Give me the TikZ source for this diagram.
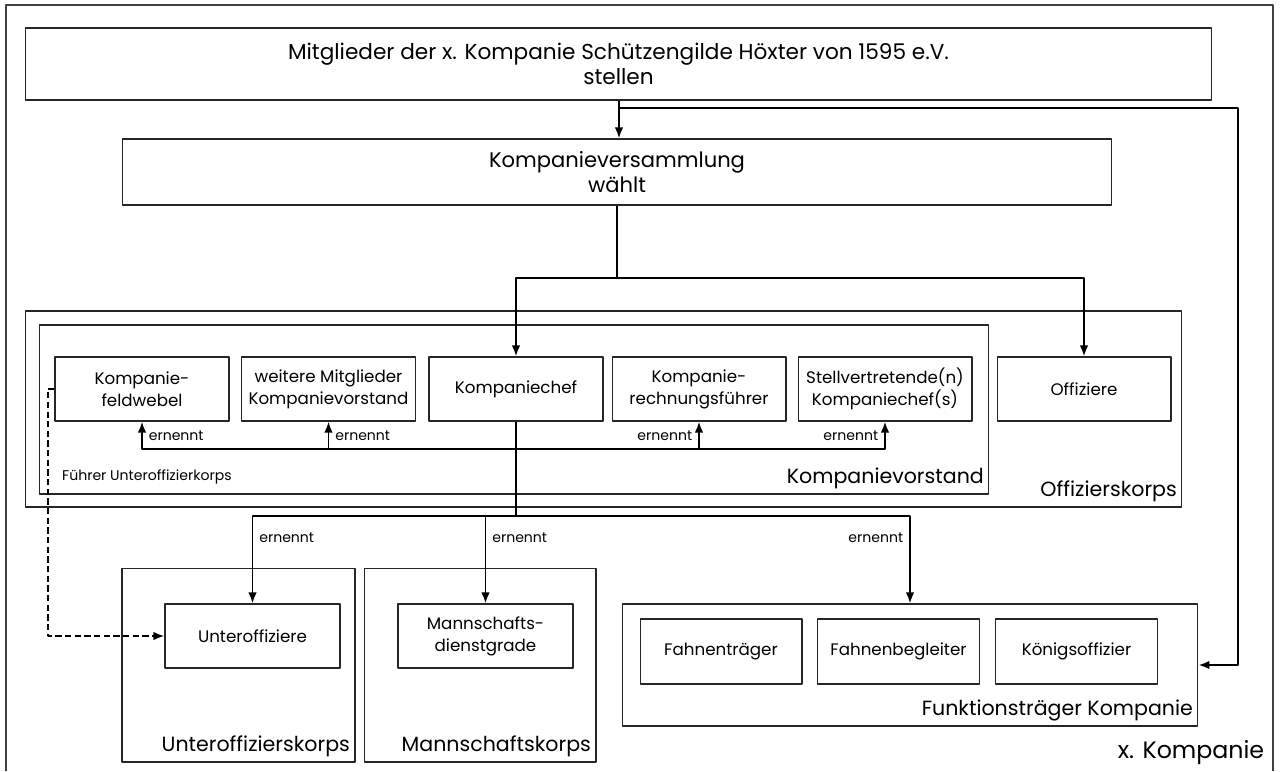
\documentclass[tikz,border=0pt]{standalone}
\usepackage{fontspec}
\setmainfont{Poppins}
\usetikzlibrary{arrows.meta}
\begin{document}
\begin{tikzpicture}[x=0.02cm, y=-0.02cm, font=\fontsize{9.5}{12.5}\selectfont, line join=round, >={Latex[length=2.2mm,width=1.7mm]},
	box/.style={draw=black!85, line width=0.6pt, align=center, minimum width=3.48cm, minimum height=1.28cm, inner sep=2pt},
	grp/.style={draw=black!85, line width=0.6pt, inner sep=0pt},
	grplbl/.style={anchor=south east, font=\fontsize{11.7}{14}\selectfont, inner sep=3pt},
	con/.style={line width=1.1pt},
	ern/.style={font=\fontsize{8}{10}\selectfont}]
	\useasboundingbox (0,0) rectangle (1280,771);
	\draw[line width=1pt, black!75] (6,771) -- (6,5) -- (1273,5) -- (1273,771);
	% oben
	\node[box, minimum width=23.74cm, minimum height=1.44cm, font=\fontsize{12.3}{14.5}\selectfont] (mg) at (618.5,64) {Mitglieder der x. Kompanie Schützengilde Höxter von 1595 e.V.\\stellen};
	\node[box, minimum width=19.8cm, minimum height=1.32cm, font=\fontsize{12}{14.5}\selectfont] (kv) at (617,172) {Kompanieversammlung\\wählt};
	% Gruppen
	\node[grp, minimum width=23.14cm, minimum height=3.92cm] (ok) at (603.5,409) {};
	\node[grp, minimum width=19cm, minimum height=3.38cm] (kvst) at (514,409.5) {};
	\node[grp, minimum width=4.66cm, minimum height=3.88cm] (uk) at (238.5,665) {};
	\node[grp, minimum width=4.64cm, minimum height=3.88cm] (mk) at (480,665) {};
	\node[grp, minimum width=11.52cm, minimum height=2.44cm] (ftk) at (910,665) {};
	\node[grplbl] (okl) at (ok.south east) {Offizierskorps};
	\node[grplbl] (kvstl) at (kvst.south east) {Kompanievorstand};
	\node[grplbl] (ukl) at (uk.south east) {Unteroffizierskorps};
	\node[grplbl] (mkl) at (mk.south east) {Mannschaftskorps};
	\node[grplbl] (ftkl) at (ftk.south east) {Funktionsträger Kompanie};
	% Ämter
	\node[box] (kfw) at (142,389) {Kompanie-\\feldwebel};
	\node[box] (wmk) at (328.5,389) {weitere Mitglieder\\Kompanievorstand};
	\node[box] (kc) at (516,389) {Kompaniechef};
	\node[box] (krf) at (699,389) {Kompanie-\\rechnungsführer};
	\node[box] (stv) at (885,389) {Stellvertretende(n)\\Kompaniechef(s)};
	\node[box] (off) at (1084,389) {Offiziere};
	\node[box, minimum width=3.5cm] (uo) at (252.5,636) {Unteroffiziere};
	\node[box, minimum width=3.5cm] (md) at (485.5,636) {Mannschafts-\\dienstgrade};
	\node[box, minimum width=3.24cm, minimum height=1.3cm] (ft) at (721,651.5) {Fahnenträger};
	\node[box, minimum width=3.24cm, minimum height=1.3cm] (fb) at (898.5,651.5) {Fahnenbegleiter};
	\node[box, minimum width=3.24cm, minimum height=1.3cm] (ko) at (1076.5,651.5) {Königsoffizier};
	\node[anchor=west, font=\fontsize{8}{10}\selectfont] (fuk) at (56,477) {Führer Unteroffizierkorps};
	\node[anchor=south east, font=\fontsize{13.5}{16}\selectfont, inner sep=2pt] (xk) at (1268,769) {x. Kompanie};
	% Verbindungen
	\coordinate (j1) at (619,108);
	\coordinate (j2) at (1238,665);
	\coordinate (j3) at (617,278);
	\coordinate (j4) at (516,449);
	\coordinate (j5) at (516,516);
	\coordinate (d1) at (48,389);
	\draw[con,->] (mg.south -| j1) -- (kv.north -| j1);
	\draw[con,->] (j1) -| (j2) -- (ftk.east);
	\draw[con] (kv.south) -- (j3);
	\draw[con,->] (j3) -| (kc.north);
	\draw[con,->] (j3) -| (off.north);
	\draw[con] (kc.south) -- (j5);
	\draw[con,->] (j4) -| node[ern,pos=0.75,right]{ernennt} (kfw.south);
	\draw[con,->] (j4) -| node[ern,pos=0.75,right]{ernennt} (wmk.south);
	\draw[con,->] (j4) -| node[ern,pos=0.75,left]{ernennt} (krf.south);
	\draw[con,->] (j4) -| node[ern,pos=0.75,left]{ernennt} (stv.south);
	\draw[con,->] (j5) -| node[ern,pos=0.625,right]{ernennt} (uo.north);
	\draw[con,->] (j5) -| node[ern,pos=0.625,right]{ernennt} (md.north);
	\draw[con,->] (j5) -| node[ern,pos=0.625,left]{ernennt} (ftk.north);
	\draw[con,dashed,dash pattern=on 3.5pt off 2pt,->] (kfw.west) -- (d1) |- (uo.west);
\end{tikzpicture}
\end{document}
